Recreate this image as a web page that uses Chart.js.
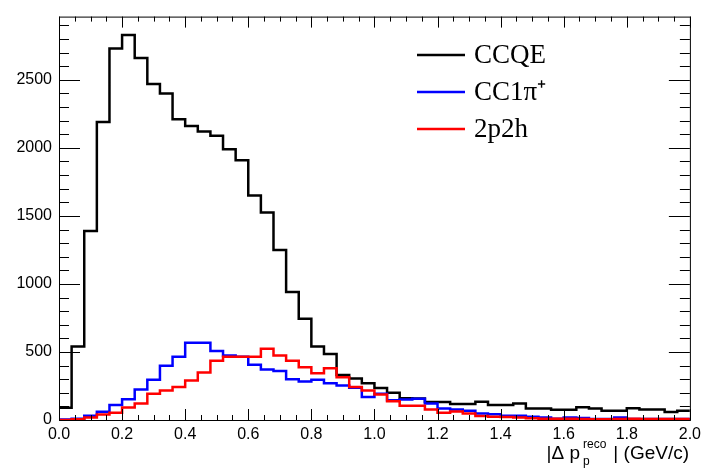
<!DOCTYPE html>
<html>
<head>
<meta charset="utf-8">
<title>Delta p reco</title>
<script src="https://cdn.jsdelivr.net/npm/chart.js@4.4.1/dist/chart.umd.min.js"></script>
<style>
  html, body { margin: 0; padding: 0; background: #fff; }
  #wrap { width: 706px; height: 469px; }
</style>
</head>
<body>
<div id="wrap"><canvas id="histo" width="706" height="469"></canvas></div>
<script>
// histogram binning: 50 bins of 0.04 GeV/c from 0 to 2
const binWidth = 0.04;
const xMin = 0.0;
const xMax = 2.0;
const yMax = 2965;

// tick labels
const xTickValues = [0.0, 0.2, 0.4, 0.6, 0.8, 1.0, 1.2, 1.4, 1.6, 1.8, 2.0];
const yTickValues = [0, 500, 1000, 1500, 2000, 2500];

// bin contents
const ccqe = [90, 540, 1390, 2190, 2730, 2830, 2660, 2470, 2400, 2210,
              2160, 2120, 2090, 1990, 1910, 1650, 1525, 1250, 940, 745,
              540, 485, 330, 305, 270, 235, 200, 160, 158, 133,
              133, 118, 118, 135, 111, 111, 121, 85, 85, 75,
              75, 94, 85, 68, 68, 87, 77, 77, 58, 68];
const cc1pi = [3, 10, 31, 60, 111, 152, 225, 295, 399, 464,
               568, 568, 507, 474, 464, 406, 372, 360, 300, 283,
               295, 271, 254, 237, 169, 193, 145, 150, 157, 121,
               85, 77, 68, 48, 43, 31, 31, 24, 19, 10,
               19, 15, 7, 7, 19, 7, 7, 7, 7, 7];
const np2h = [0, 5, 19, 41, 53, 92, 121, 193, 217, 242,
              290, 350, 435, 464, 464, 464, 524, 474, 435, 387,
              343, 380, 314, 242, 217, 188, 138, 104, 104, 77,
              53, 63, 48, 29, 24, 22, 19, 12, 10, 10,
              10, 7, 5, 5, 7, 10, 7, 7, 7, 7];

const seriesLabels = ['CCQE', 'CC1\u03c0\u207a', '2p2h'];
const seriesColors = ['#000000', '#0000ff', '#ff0000'];

// turn bin contents into step points (low edges + closing point at xMax)
function toSteps(values) {
    const pts = values.map((v, i) => ({ x: xMin + i * binWidth, y: v }));
    pts.push({ x: xMax, y: values[values.length - 1] });
    return pts;
}

// ROOT-like frame with inward ticks on all four sides
const rootFrame = {
    id: 'rootFrame',
    afterDatasetsDraw(chart) {
        const ctx = chart.ctx;
        const a = chart.chartArea;
        const xs = chart.scales.x;
        const ys = chart.scales.y;
        ctx.save();
        ctx.strokeStyle = '#000';
        ctx.lineWidth = 1;
        ctx.strokeRect(a.left + 0.5, a.top + 0.5, a.right - a.left, a.bottom - a.top);
        ctx.beginPath();
        for (let i = 0; i <= 40; i++) {
            const px = Math.round(xs.getPixelForValue(i * 0.05)) + 0.5;
            const len = (i % 4 === 0) ? 11 : 5;
            ctx.moveTo(px, a.bottom);
            ctx.lineTo(px, a.bottom - len);
            ctx.moveTo(px, a.top);
            ctx.lineTo(px, a.top + len);
        }
        for (let v = 0; v <= yMax; v += 100) {
            const py = Math.round(ys.getPixelForValue(v)) + 0.5;
            const len = (v % 500 === 0) ? 21 : 10;
            ctx.moveTo(a.left, py);
            ctx.lineTo(a.left + len, py);
            ctx.moveTo(a.right, py);
            ctx.lineTo(a.right - len, py);
        }
        ctx.stroke();
        ctx.restore();
    }
};

// legend box in the top right corner, ROOT style
const rootLegend = {
    id: 'rootLegend',
    afterDraw(chart) {
        const ctx = chart.ctx;
        const rows = [55, 92, 129];
        ctx.save();
        chart.data.datasets.forEach((ds, i) => {
            ctx.strokeStyle = ds.borderColor;
            ctx.lineWidth = 2.5;
            ctx.beginPath();
            ctx.moveTo(417, rows[i]);
            ctx.lineTo(465, rows[i]);
            ctx.stroke();
            ctx.fillStyle = '#000';
            ctx.font = '27px "Liberation Serif", "Times New Roman", serif';
            ctx.textBaseline = 'middle';
            ctx.textAlign = 'left';
            ctx.fillText(ds.label, 474, rows[i] + 1);
        });
        ctx.restore();
    }
};

// x axis title with super/subscript
const axisTitle = {
    id: 'axisTitle',
    afterDraw(chart) {
        const ctx = chart.ctx;
        const big = '19px "Liberation Sans", Arial, sans-serif';
        const small = '12px "Liberation Sans", Arial, sans-serif';
        const base = 459;
        ctx.save();
        ctx.fillStyle = '#000';
        ctx.textBaseline = 'alphabetic';
        ctx.textAlign = 'left';
        ctx.font = big;
        const partA = '|\u0394 p';
        const partB = '| (GeV/c)';
        const wA = ctx.measureText(partA).width;
        const wB = ctx.measureText(partB).width;
        ctx.font = small;
        const wSup = ctx.measureText('reco').width;
        const total = wA + 3 + wSup + 7 + wB;
        let x = 689 - total;
        ctx.font = big;
        ctx.fillText(partA, x, base);
        x += wA + 3;
        ctx.font = small;
        ctx.fillText('reco', x, base - 11);
        ctx.fillText('p', x, base + 6);
        x += wSup + 7;
        ctx.font = big;
        ctx.fillText(partB, x, base);
        ctx.restore();
    }
};

const tickFont = { family: '"Liberation Sans", Arial, sans-serif', size: 16 };

const histCtx = document.getElementById('histo').getContext('2d');
const histChart = new Chart(histCtx, {
    type: 'line',
    data: {
        datasets: [ccqe, cc1pi, np2h].map((vals, i) => ({
            label: seriesLabels[i],
            data: toSteps(vals),
            borderColor: seriesColors[i],
            backgroundColor: seriesColors[i],
            borderWidth: 2.5,
            stepped: true,
            pointRadius: 0,
            fill: false,
            order: 3 - i
        }))
    },
    options: {
        responsive: false,
        animation: false,
        events: [],
        layout: { padding: { top: 12, right: 14, left: 0, bottom: 0 } },
        plugins: {
            legend: { display: false },
            tooltip: { enabled: false },
            title: { display: false }
        },
        scales: {
            x: {
                type: 'linear',
                min: xMin,
                max: xMax,
                grid: { display: false, drawTicks: false },
                border: { display: false },
                ticks: {
                    maxRotation: 0,
                    autoSkip: false,
                    padding: 5,
                    color: '#000',
                    font: tickFont,
                    callback: v => Number(v).toFixed(1)
                },
                afterBuildTicks: s => { s.ticks = xTickValues.map(v => ({ value: v })); },
                afterFit: s => { s.height = 49; }
            },
            y: {
                type: 'linear',
                min: 0,
                max: yMax,
                grid: { display: false, drawTicks: false },
                border: { display: false },
                ticks: {
                    autoSkip: false,
                    padding: 7,
                    color: '#000',
                    font: tickFont,
                    callback: v => String(v)
                },
                afterBuildTicks: s => { s.ticks = yTickValues.map(v => ({ value: v })); },
                afterFit: s => { s.width = 59; }
            }
        }
    },
    plugins: [rootFrame, rootLegend, axisTitle]
});
</script>
</body>
</html>
